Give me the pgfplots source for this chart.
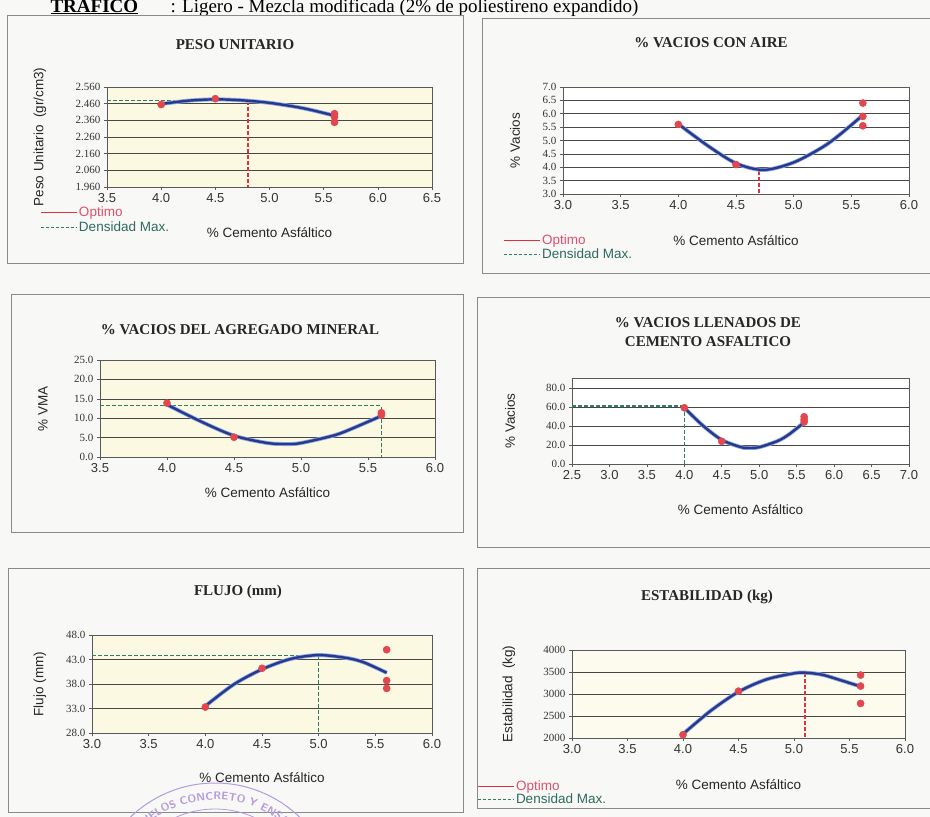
\documentclass[border=0pt]{standalone}
\usepackage{fontspec}
\setmainfont{Liberation Serif}
\newfontfamily\arial{Liberation Sans}
\usepackage{pgfplots}
\pgfplotsset{compat=1.18}
\usetikzlibrary{decorations.text}
\definecolor{optred}{HTML}{E0303F}
\definecolor{opttext}{HTML}{E0506E}
\definecolor{dgreen}{HTML}{2F8060}
\definecolor{dgtext}{HTML}{2E6B5E}
\definecolor{curveblue}{HTML}{26398C}
\definecolor{halo}{HTML}{8FA8E2}
\definecolor{markred}{HTML}{E2474F}
\definecolor{plotyellow}{HTML}{FCF9E2}
\definecolor{pagebg}{HTML}{F8F8F6}
\definecolor{framegray}{HTML}{8A8A8A}
\definecolor{stamp}{HTML}{B59AE0}
\pgfplotsset{
  panel/.style={
    scale only axis, anchor=south west,
    axis line style={black!65, line width=0.7pt},
    ymajorgrids, grid style={black!72, line width=0.6pt},
    tick style={black!65, line width=0.6pt},
    major tick length=3pt, tick align=outside,
    xtick pos=bottom, ytick pos=left,
    scaled x ticks=false, scaled y ticks=false,
    /pgf/number format/assume math mode=true,
    xticklabel style={font=\arial\fontsize{13}{13}\selectfont, text=black!80,
      /pgf/number format/assume math mode=true,
      /pgf/number format/fixed, /pgf/number format/fixed zerofill, /pgf/number format/precision=1},
    yticklabel style={font=\fontsize{11}{11}\selectfont, text=black!80,
      /pgf/number format/assume math mode=true,
      /pgf/number format/fixed, /pgf/number format/fixed zerofill, /pgf/number format/precision=1,
      /pgf/number format/1000 sep={}},
    label style={font=\arial\fontsize{13.5}{14}\selectfont, text=black!85},
    xlabel={\% Cemento Asfáltico},
    legend style={draw=none, fill=none, font=\arial\fontsize{13.5}{14}\selectfont,
      inner sep=0pt, row sep=-1pt, anchor=north west, legend cell align=left},
    legend image code/.code={\draw[##1] (0pt,0pt) -- (36pt,0pt);},
  },
  xlab/.style={xlabel style={at={([yshift=-#1]axis description cs:0.5,0)}, anchor=center}},
  ylab/.style={ylabel style={at={([xshift=-#1]axis description cs:0,0.5)}, anchor=center}},
  marksty/.style={only marks, mark=*, mark size=3.6pt, markred, mark options={draw=markred, fill=markred}, forget plot},
  halosty/.style={smooth, halo, line width=4pt, forget plot},
  curvesty/.style={smooth, curveblue, line width=2.4pt, forget plot},
  redsty/.style={draw=optred, dash pattern=on 4pt off 2pt, line width=1.5pt, forget plot},
  greensty/.style={draw=dgreen, dash pattern=on 4pt off 2pt, line width=1.5pt, forget plot},
}
\begin{document}
\begin{tikzpicture}
\fill[pagebg] (0pt,0pt) rectangle (930pt,-817pt);
\begin{scope}
\clip (0pt,0pt) rectangle (930pt,-817pt);
% header
\node[anchor=base west, font=\fontsize{19}{20}\selectfont] at (47pt,-12pt) {\underline{\textbf{TRAFICO}}};
\node[anchor=base west, font=\fontsize{19}{20}\selectfont] at (167pt,-12pt) {: Ligero - Mezcla modificada (2\% de poliestireno expandido)};
% frames
\draw[framegray, line width=0.8pt] (7pt,-15pt) rectangle (463pt,-263pt);
\draw[framegray, line width=0.8pt] (482pt,-18pt) rectangle (945pt,-273pt);
\draw[framegray, line width=0.8pt] (11pt,-294pt) rectangle (463pt,-532pt);
\draw[framegray, line width=0.8pt] (477pt,-297pt) rectangle (945pt,-547pt);
\draw[framegray, line width=0.8pt] (8pt,-568pt) rectangle (463pt,-812pt);
\draw[framegray, line width=0.8pt] (477pt,-568pt) rectangle (945pt,-808pt);
% stamp (partly visible)
\draw[stamp, line width=1pt] (215pt,-905pt) circle (122pt);
\draw[stamp, line width=0.8pt] (215pt,-905pt) circle (96pt);
\path[decorate, decoration={text along path, text align=center,
  text={|\sffamily\bfseries\fontsize{11}{11}\selectfont\color{stamp}|LABORATORIO DE SUELOS CONCRETO Y ENSAYO DE MATERIALES}}]
  (114pt,-868pt) arc (158:22:109pt);
% titles
\begin{scope}[every node/.style={font=\bfseries\fontsize{15}{19}\selectfont, text=black!85}]
\node at (235pt,-45pt) {PESO UNITARIO};
\node at (711pt,-43pt) {\% VACIOS CON AIRE};
\node at (240pt,-330pt) {\% VACIOS DEL AGREGADO MINERAL};
\node[align=center] at (708pt,-332pt) {\% VACIOS LLENADOS DE\\CEMENTO ASFALTICO};
\node at (238pt,-592pt) {FLUJO (mm)};
\node at (707pt,-597pt) {ESTABILIDAD (kg)};
\end{scope}

% ---------- Panel 1: Peso unitario
\begin{axis}[panel, at={(107pt,-187pt)}, width=325pt, height=100pt,
  axis background/.style={fill=plotyellow},
  xmin=3.5, xmax=6.5, ymin=1.96, ymax=2.56,
  xtick={3.5,4.0,4.5,5.0,5.5,6.0,6.5},
  ytick={1.96,2.06,2.16,2.26,2.36,2.46,2.56},
  yticklabel style={/pgf/number format/precision=3},
  ylabel={Peso Unitario\ \ (gr/cm3)}, xlab=46pt, ylab=67pt,
  legend style={at={([xshift=-67pt,yshift=-18pt]axis description cs:0,0)}}]
\addplot[marksty] coordinates {(4.0,2.455) (4.5,2.490) (5.6,2.400) (5.6,2.380) (5.6,2.348)};
\addplot[redsty] coordinates {(4.8,2.478) (4.8,1.96)};
\addplot[greensty] coordinates {(3.5,2.480) (4.8,2.480)};
\addplot[halosty] coordinates {(4.0,2.458) (4.25,2.478) (4.5,2.486) (4.75,2.480) (5.0,2.465) (5.25,2.440) (5.4,2.420) (5.6,2.388)};
\addplot[curvesty] coordinates {(4.0,2.458) (4.25,2.478) (4.5,2.486) (4.75,2.480) (5.0,2.465) (5.25,2.440) (5.4,2.420) (5.6,2.388)};
\addlegendimage{optred, line width=0.8pt}
\addlegendentry{\textcolor{opttext}{Optimo}}
\addlegendimage{dgreen, densely dashed, line width=0.8pt}
\addlegendentry{\textcolor{dgtext}{Densidad Max.}}
\end{axis}

% ---------- Panel 2: Vacios con aire
\begin{axis}[panel, at={(563pt,-194pt)}, width=346pt, height=107pt,
  axis background/.style={fill=white},
  xmin=3, xmax=6, ymin=3, ymax=7,
  xtick={3.0,3.5,4.0,4.5,5.0,5.5,6.0},
  ytick={3.0,3.5,4.0,4.5,5.0,5.5,6.0,6.5,7.0},
  ylabel={\% Vacios}, xlab=47pt, ylab=48pt,
  legend style={at={([xshift=-60pt,yshift=-39pt]axis description cs:0,0)}, row sep=-2pt}]
\addplot[marksty] coordinates {(4.0,5.60) (4.5,4.10) (5.6,6.40) (5.6,5.90) (5.6,5.55)};
\addplot[redsty] coordinates {(4.7,3.86) (4.7,3.0)};
\addplot[halosty] coordinates {(4.0,5.62) (4.25,4.82) (4.5,4.15) (4.74,3.90) (5.0,4.18) (5.25,4.75) (5.4,5.22) (5.6,5.95)};
\addplot[curvesty] coordinates {(4.0,5.62) (4.25,4.82) (4.5,4.15) (4.74,3.90) (5.0,4.18) (5.25,4.75) (5.4,5.22) (5.6,5.95)};
\addlegendimage{optred, line width=0.8pt}
\addlegendentry{\textcolor{opttext}{Optimo}}
\addlegendimage{dgreen, densely dashed, line width=0.8pt}
\addlegendentry{\textcolor{dgtext}{Densidad Max.}}
\end{axis}

% ---------- Panel 3: VMA
\begin{axis}[panel, at={(100pt,-457pt)}, width=335pt, height=97pt,
  axis background/.style={fill=plotyellow},
  xmin=3.5, xmax=6, ymin=0, ymax=25,
  xtick={3.5,4.0,4.5,5.0,5.5,6.0},
  ytick={0,5,10,15,20,25},
  ylabel={\% VMA}, xlab=36pt, ylab=57pt]
\addplot[marksty] coordinates {(4.0,13.9) (4.5,5.1) (5.6,11.4) (5.6,10.8)};
\addplot[greensty] coordinates {(3.5,13.3) (5.6,13.3)};
\addplot[greensty] coordinates {(5.6,12.9) (5.6,0)};
\addplot[halosty] coordinates {(4.0,13.5) (4.25,9.2) (4.5,5.5) (4.75,3.6) (4.9,3.35) (5.0,3.6) (5.25,5.6) (5.4,7.6) (5.6,10.6)};
\addplot[curvesty] coordinates {(4.0,13.5) (4.25,9.2) (4.5,5.5) (4.75,3.6) (4.9,3.35) (5.0,3.6) (5.25,5.6) (5.4,7.6) (5.6,10.6)};
\end{axis}

% ---------- Panel 4: VFA
\begin{axis}[panel, at={(572pt,-464pt)}, width=337pt, height=86pt,
  axis background/.style={fill=white},
  xmin=2.5, xmax=7, ymin=0, ymax=91,
  xtick={2.5,3.0,3.5,4.0,4.5,5.0,5.5,6.0,6.5,7.0},
  ytick={0,20,40,60,80},
  ylabel={\% Vacios}, xlab=46pt, ylab=62pt]
\addplot[marksty] coordinates {(4.0,59.5) (4.5,24.0) (5.6,50.0) (5.6,47.0) (5.6,44.5)};
\addplot[greensty] coordinates {(2.5,61.5) (4.0,61.5)};
\addplot[greensty] coordinates {(4.0,61.5) (4.0,0)};
\addplot[halosty] coordinates {(4.0,59.5) (4.25,40.5) (4.5,25.5) (4.75,18.0) (4.85,17.0) (5.0,17.8) (5.25,24.5) (5.4,31.5) (5.6,44.0)};
\addplot[curvesty] coordinates {(4.0,59.5) (4.25,40.5) (4.5,25.5) (4.75,18.0) (4.85,17.0) (5.0,17.8) (5.25,24.5) (5.4,31.5) (5.6,44.0)};
\end{axis}

% ---------- Panel 5: Flujo
\begin{axis}[panel, at={(92pt,-733pt)}, width=340pt, height=98pt,
  axis background/.style={fill=plotyellow},
  xmin=3, xmax=6, ymin=28, ymax=48,
  xtick={3.0,3.5,4.0,4.5,5.0,5.5,6.0},
  ytick={28,33,38,43,48},
  ylabel={Flujo (mm)}, xlab=45pt, ylab=52pt]
\addplot[marksty] coordinates {(4.0,33.3) (4.5,41.2) (5.6,45.0) (5.6,38.7) (5.6,37.1)};
\addplot[greensty] coordinates {(3.0,43.8) (5.0,43.8)};
\addplot[greensty] coordinates {(5.0,43.8) (5.0,28)};
\addplot[halosty] coordinates {(4.0,33.5) (4.25,37.9) (4.5,41.0) (4.75,43.1) (5.0,43.9) (5.25,43.3) (5.4,42.4) (5.6,40.3)};
\addplot[curvesty] coordinates {(4.0,33.5) (4.25,37.9) (4.5,41.0) (4.75,43.1) (5.0,43.9) (5.25,43.3) (5.4,42.4) (5.6,40.3)};
\end{axis}

% ---------- Panel 6: Estabilidad
\begin{axis}[panel, at={(572pt,-738pt)}, width=333pt, height=88pt,
  axis background/.style={fill=plotyellow!60!white},
  xmin=3, xmax=6, ymin=2000, ymax=4000,
  xtick={3.0,3.5,4.0,4.5,5.0,5.5,6.0},
  ytick={2000,2500,3000,3500,4000},
  yticklabel style={/pgf/number format/precision=0},
  ylabel={Estabilidad\ \ (kg)}, xlab=47pt, ylab=63pt,
  legend style={at={([xshift=-95pt,yshift=-41pt]axis description cs:0,0)}, row sep=-3pt}]
\addplot[marksty] coordinates {(4.0,2075) (4.5,3065) (5.6,3430) (5.6,3180) (5.6,2785)};
\addplot[redsty] coordinates {(5.1,3480) (5.1,2000)};
\addplot[halosty] coordinates {(4.0,2090) (4.25,2620) (4.5,3050) (4.75,3330) (5.0,3470) (5.1,3485) (5.25,3440) (5.4,3330) (5.6,3170)};
\addplot[curvesty] coordinates {(4.0,2090) (4.25,2620) (4.5,3050) (4.75,3330) (5.0,3470) (5.1,3485) (5.25,3440) (5.4,3330) (5.6,3170)};
\addlegendimage{optred, line width=0.8pt}
\addlegendentry{\textcolor{opttext}{Optimo}}
\addlegendimage{dgreen, densely dashed, line width=0.8pt}
\addlegendentry{\textcolor{dgtext}{Densidad Max.}}
\end{axis}
\end{scope}
\pgfresetboundingbox
\useasboundingbox (0pt,0pt) rectangle (930pt,-817pt);
\end{tikzpicture}
\end{document}
